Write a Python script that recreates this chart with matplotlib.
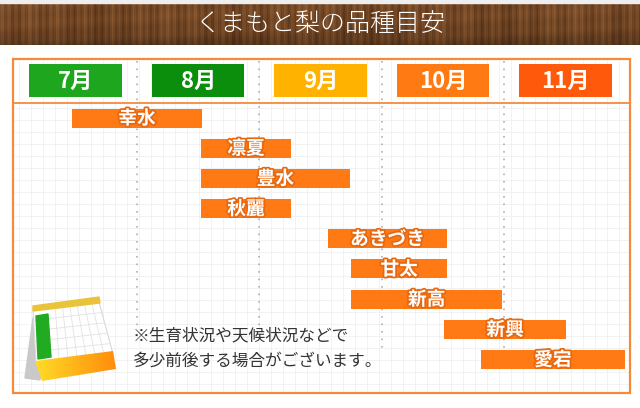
import matplotlib
matplotlib.use('Agg')
import matplotlib.pyplot as plt
import matplotlib.patheffects as pe
from matplotlib.patches import Rectangle, Polygon
import numpy as np

plt.rcParams['font.family'] = ['Noto Sans CJK JP', 'DejaVu Sans']

# chart data
title = 'くまもと梨の品種目安'
months = ['7月', '8月', '9月', '10月', '11月']
month_start = [7, 8, 9, 10, 11]
varieties = ['幸水', '凛夏', '豊水', '秋麗', 'あきづき', '甘太', '新高', '新興', '愛宕']
harvest_start = [7.47, 8.52, 8.52, 8.52, 9.56, 9.75, 9.75, 10.51, 10.81]
harvest_end = [8.53, 9.26, 9.74, 9.26, 10.53, 10.53, 10.98, 11.50, 11.98]
note_lines = ['※生育状況や天候状況などで', '多少前後する場合がございます。']

# styles
month_colors = ['#1ea71e', '#0b8e0b', '#ffb300', '#ff7a12', '#ff5a0c']
bar_color = '#ff7a14'
frame_color = '#f58a3c'

W, H = 640, 408
fig = plt.figure(figsize=(6.4, 4.08), dpi=100, facecolor='white')

# background layer in pixel units
bg = fig.add_axes([0, 0, 1, 1])
bg.set_xlim(0, W)
bg.set_ylim(H, 0)
bg.axis('off')

# wood banner (simple grain made from sines)
xs = np.arange(W)
ys = np.arange(42)
gx = (0.5 + 0.22 * np.sin(xs * 0.91) + 0.14 * np.sin(xs * 0.23 + 1.0)
      + 0.10 * np.sin(xs * 2.7 + 0.5) + 0.08 * np.sin(xs * 0.047))
gy = 0.06 * np.sin(ys[:, None] * 0.35 + xs[None, :] * 0.02)
g = np.clip(gx[None, :] + gy, 0, 1)
shade = 1 - 0.25 * (ys[:, None] / 41.0) ** 3
dark = np.array([0x5a, 0x34, 0x18]) / 255
light = np.array([0x8e, 0x5c, 0x33]) / 255
wood = (dark + (light - dark) * g[..., None]) * shade[..., None]
bg.imshow(wood, extent=(0, W, 45, 3), aspect='auto', zorder=1)
bg.add_patch(Rectangle((0, 0), W, 3, color='#eeeeee', zorder=1))
bg.text(W / 2, 24, title, color='white', fontsize=18, fontweight='light',
        ha='center', va='center', zorder=3)

# frame and graph paper
bg.add_patch(Rectangle((13, 59), 617, 334, facecolor='white',
                       edgecolor='none', zorder=1))
bg.vlines(np.arange(19, 630, 12), 60, 392, color='#f0f0f0', lw=0.6, zorder=1)
bg.hlines(np.arange(108, 393, 12), 14, 629, color='#f0f0f0', lw=0.6, zorder=1)
bg.add_patch(Rectangle((13, 59), 617, 334, facecolor='none',
                       edgecolor=frame_color, lw=1.6, zorder=4))
bg.hlines(102.5, 13, 630, color=frame_color, lw=1.3, zorder=4)

# data axes: x in months, y in rows
pitch = 30.19
row0 = 118
top_px, bot_px = 59, 393
ax = fig.add_axes([14.5 / W, (H - bot_px) / H, (627 - 14.5) / W,
                   (bot_px - top_px) / H])
ax.set_xlim(7, 12)
ax.set_ylim((bot_px - row0) / pitch, (top_px - row0) / pitch)
ax.axis('off')
ax.patch.set_alpha(0)

# dotted month separators
dot_end = [(330 - row0) / pitch, (330 - row0) / pitch,
           (352 - row0) / pitch, (362 - row0) / pitch]
for m, ye in zip(month_start[1:], dot_end):
    ax.vlines(m, (61 - row0) / pitch, ye, color='#b0b0b0', lw=1.2,
              linestyle=(0, (1, 3.5)), zorder=2)

# month headers
hdr_y = (80.5 - row0) / pitch
ax.barh([hdr_y] * len(months), [0.755] * len(months),
        left=[m + 0.122 for m in month_start], height=32.4 / pitch,
        color=month_colors, zorder=3)
for m, label in zip(month_start, months):
    ax.text(m + 0.5, hdr_y + 0.02, label, color='white', fontsize=16,
            fontweight='bold', ha='center', va='center', zorder=4)

# harvest bars
rows = np.arange(len(varieties))
widths = [e - s for s, e in zip(harvest_start, harvest_end)]
ax.barh(rows, widths, left=harvest_start, height=19 / pitch,
        color=bar_color, zorder=3)
for r, s, e, name in zip(rows, harvest_start, harvest_end, varieties):
    ax.text((s + e) / 2, r + 0.02, name, color='white', fontsize=13.5,
            fontweight='bold', ha='center', va='center', zorder=4,
            path_effects=[pe.withStroke(linewidth=2.5, foreground='#e8680f')])

# calendar icon
bg.add_patch(Polygon([(25, 378), (33, 318), (44, 318), (40, 380)],
                     color='#c9c9c9', zorder=5))
bg.add_patch(Polygon([(33, 310), (99, 302), (113, 354), (36, 362)],
                     facecolor='white', edgecolor='#d8d8d8', lw=0.8, zorder=5))
for i in range(1, 7):
    t = i / 7
    bg.plot([48 + (99 - 48) * t, 50 + (113 - 50) * t],
            [309 - 7 * t, 360 - 7 * t], color='#e2e2e2', lw=0.6, zorder=6)
for j in range(1, 5):
    t = j / 5
    bg.plot([33 + 3 * t, 99 + 14 * t], [310 + 52 * t, 302 + 52 * t],
            color='#e2e2e2', lw=0.6, zorder=6)
bg.add_patch(Polygon([(36, 316), (48, 314), (51, 357), (38, 359)],
                     color='#22aa22', zorder=6))
bg.add_patch(Polygon([(33, 306), (99, 297), (100, 303), (33, 311)],
                     color='#e9c43a', zorder=6))
base = Polygon([(35, 361), (113, 351), (116, 369), (42, 381)],
               facecolor='none', edgecolor='none', zorder=6)
bg.add_patch(base)
grad = np.linspace(0, 1, 100)[None, :]
yellow = np.array([1.0, 0.86, 0.15])
orange = np.array([1.0, 0.55, 0.05])
grad_img = yellow + (orange - yellow) * grad[..., None]
im = bg.imshow(grad_img, extent=(35, 116, 381, 351), aspect='auto', zorder=6)
im.set_clip_path(base)

# note
for k, line in enumerate(note_lines):
    bg.text(133, 336 + 25.5 * k, line, color='#333333', fontsize=12,
            ha='left', va='center', zorder=5)

fig.savefig('out.png', dpi=100, facecolor='white')
